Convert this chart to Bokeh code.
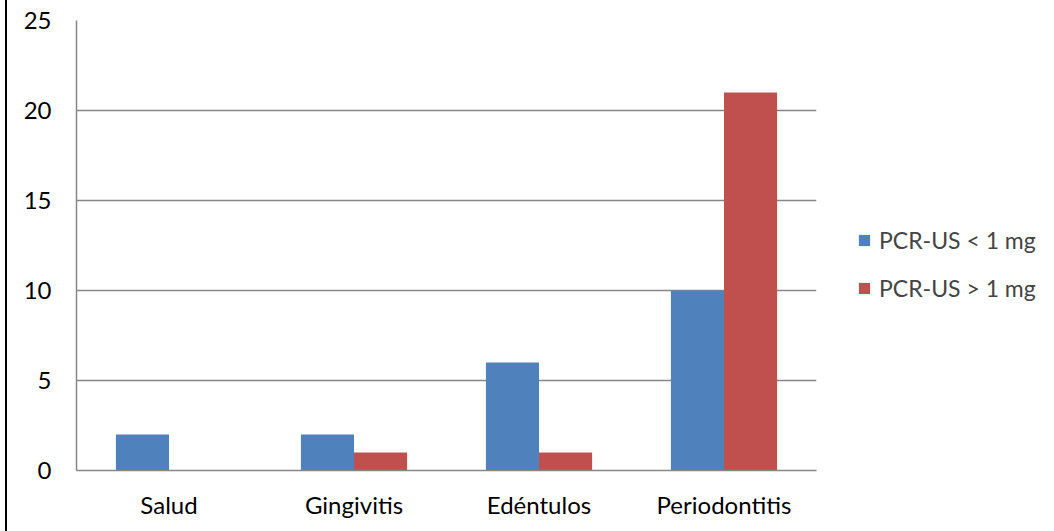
from bokeh.plotting import figure
from bokeh.models import ColumnDataSource, FactorRange, Legend, LegendItem, FixedTicker, Range1d, Div
from bokeh.layouts import row
from bokeh.transform import dodge
from bokeh.embed import file_html
from bokeh.resources import INLINE

categories = ["Salud", "Gingivitis", "Edéntulos", "Periodontitis"]
series_names = ["PCR-US < 1 mg", "PCR-US > 1 mg"]
low_values = [2, 2, 6, 10]
high_values = [0, 1, 1, 21]
y_ticks = [0, 5, 10, 15, 20, 25]

BLUE = "#4F81BD"
RED = "#C0504D"
GRID = "#868686"
FONT = "Lato"
FS = "24px"

src = ColumnDataSource(data=dict(cat=categories, low=low_values, high=high_values))

p = figure(frame_width=740, frame_height=450, x_range=FactorRange(*categories), y_range=Range1d(0, 25),
           output_backend="svg", toolbar_location=None,
           min_border_left=69, min_border_right=0, min_border_top=20, min_border_bottom=61)
p.outline_line_color = None
p.background_fill_color = "white"
p.border_fill_color = "white"

bw = 0.287
r1 = p.vbar(x=dodge("cat", -bw / 2, range=p.x_range), top="low", width=bw, source=src,
            fill_color=BLUE, line_color=None)
r2 = p.vbar(x=dodge("cat", bw / 2, range=p.x_range), top="high", width=bw, source=src,
            fill_color=RED, line_color=None)

p.yaxis.ticker = FixedTicker(ticks=y_ticks)
p.ygrid.ticker = FixedTicker(ticks=y_ticks)
p.xgrid.grid_line_color = None
p.ygrid.grid_line_color = GRID
p.ygrid.grid_line_width = 1.3

for ax in (p.xaxis, p.yaxis):
    ax.axis_line_color = GRID
    ax.axis_line_width = 1.5
    ax.major_tick_line_color = None
    ax.minor_tick_line_color = None
    ax.major_label_text_font = FONT
    ax.major_label_text_font_size = FS
    ax.major_label_text_color = "black"
p.yaxis.major_label_standoff = 19
p.xaxis.major_label_standoff = 13

legend = Legend(items=[LegendItem(label=series_names[0], renderers=[r1]),
                       LegendItem(label=series_names[1], renderers=[r2])],
                location=(41, 168), orientation="vertical")
legend.border_line_color = None
legend.background_fill_alpha = 0
legend.padding = 0
legend.margin = 0
legend.spacing = 20
legend.glyph_width = 14
legend.glyph_height = 14
legend.label_height = 20
legend.label_standoff = 8
legend.label_text_font = FONT
legend.label_text_font_size = "23px"
legend.label_text_baseline = "middle"
p.add_layout(legend, "right")

edge = Div(text="", width=7, height=531, margin=0,
           styles={"border-right": "2px solid black", "box-sizing": "border-box"})

open("out.html", "w").write(file_html(row(edge, p, spacing=0), INLINE))
